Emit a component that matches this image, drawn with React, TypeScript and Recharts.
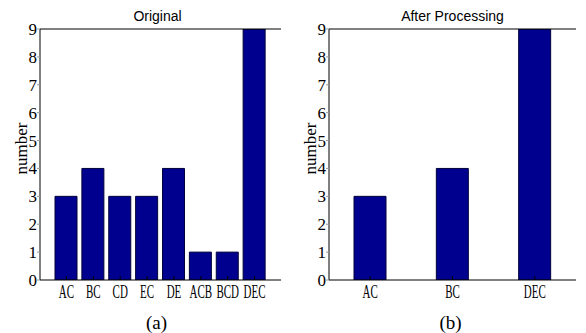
import React from 'react';
import { BarChart, Bar, XAxis, YAxis, Label } from 'recharts';

const leftCategories = ['AC', 'BC', 'CD', 'EC', 'DE', 'ACB', 'BCD', 'DEC'];
const leftValues = [3, 4, 3, 3, 4, 1, 1, 9];
const rightCategories = ['AC', 'BC', 'DEC'];
const rightValues = [3, 4, 9];
const yTicks = [0, 1, 2, 3, 4, 5, 6, 7, 8, 9];
const leftTitle = 'Original';
const rightTitle = 'After Processing';
const leftCaption = '(a)';
const rightCaption = '(b)';
const yLabel = 'number';

const SERIF = '"Liberation Serif", "Times New Roman", serif';
const SANS = '"Liberation Sans", Arial, sans-serif';
const BAR_FILL = '#00008f';

type PanelProps = {
  categories: string[];
  values: number[];
  title: string;
  caption: string;
  width: number;
  yAxisWidth: number;
  rightMargin: number;
  padding: number;
  barSize: number;
  titleDx: number;
  captionDx: number;
};

const XTick = (props: any) => {
  const { x, y, payload } = props;
  return (
    <text
      transform={`translate(${x},${y + 11.5}) scale(0.61,1)`}
      textAnchor="middle"
      fontFamily={SERIF}
      fontSize={18}
      fill="#000"
    >
      {payload.value}
    </text>
  );
};

function Panel(p: PanelProps) {
  const data = p.categories.map((c, i) => ({ name: c, value: p.values[i] }));
  return (
    <BarChart
      width={p.width}
      height={333}
      data={data}
      margin={{ top: 0, right: p.rightMargin, bottom: 0, left: 0 }}
      barCategoryGap={0}
    >
      <XAxis
        dataKey="name"
        xAxisId="top"
        orientation="top"
        height={29}
        padding={{ left: p.padding, right: p.padding }}
        tickSize={-4}
        tick={false}
        axisLine={{ stroke: '#000' }}
        tickLine={{ stroke: '#000' }}
      >
        <Label
          content={(lp: any) => {
            const vb = lp.viewBox || { x: 0, y: 0, width: 0 };
            return (
              <text
                x={vb.x + vb.width / 2 + p.titleDx}
                y={vb.y + 21}
                textAnchor="middle"
                fontFamily={SANS}
                fontSize={14}
                fill="#000"
              >
                {p.title}
              </text>
            );
          }}
        />
      </XAxis>
      <XAxis
        dataKey="name"
        height={53}
        padding={{ left: p.padding, right: p.padding }}
        tickSize={-4}
        tickMargin={10}
        interval={0}
        axisLine={{ stroke: '#000' }}
        tickLine={{ stroke: '#000' }}
        tick={<XTick />}
      >
        <Label
          content={(lp: any) => {
            const vb = lp.viewBox || { x: 0, y: 0, width: 0 };
            return (
              <text
                x={vb.x + vb.width / 2 + p.captionDx}
                y={vb.y + 49}
                textAnchor="middle"
                fontFamily={SERIF}
                fontSize={19}
                fill="#000"
              >
                {p.caption}
              </text>
            );
          }}
        />
      </XAxis>
      <YAxis
        width={p.yAxisWidth}
        domain={[0, 9]}
        ticks={yTicks}
        interval={0}
        allowDataOverflow
        tickSize={3}
        tickMargin={0}
        axisLine={{ stroke: '#000' }}
        tickLine={{ stroke: '#999' }}
        tick={{ fill: '#000', fontFamily: SERIF, fontSize: 17 }}
      >
        <Label
          content={(lp: any) => {
            const vb = lp.viewBox || { x: 0, y: 0, width: 0, height: 0 };
            const cx = vb.x + vb.width - 13.5;
            const cy = vb.y + vb.height / 2 - 6;
            return (
              <text
                x={cx}
                y={cy}
                transform={`rotate(-90 ${cx} ${cy})`}
                textAnchor="middle"
                fontFamily={SERIF}
                fontSize={17}
                fill="#000"
              >
                {yLabel}
              </text>
            );
          }}
        />
      </YAxis>
      <YAxis
        yAxisId="right"
        orientation="right"
        width={0}
        domain={[0, 9]}
        ticks={yTicks}
        interval={0}
        allowDataOverflow
        tickSize={-4}
        tick={false}
        axisLine={{ stroke: '#000' }}
        tickLine={{ stroke: '#000' }}
      />
      <Bar
        dataKey="value"
        fill={BAR_FILL}
        stroke="#00003a"
        strokeWidth={1}
        barSize={p.barSize}
        isAnimationActive={false}
      />
    </BarChart>
  );
}

export default function App() {
  return (
    <div style={{ position: 'absolute', left: 0, top: 0, width: 586, height: 333, background: '#fff' }}>
      <div style={{ position: 'absolute', left: 0, top: 0 }}>
        <Panel
          categories={leftCategories}
          values={leftValues}
          title={leftTitle}
          caption={leftCaption}
          width={290}
          yAxisWidth={40}
          rightMargin={9}
          padding={13}
          barSize={22}
          titleDx={-3}
          captionDx={-4}
        />
      </div>
      <div style={{ position: 'absolute', left: 290, top: 0 }}>
        <Panel
          categories={rightCategories}
          values={rightValues}
          title={rightTitle}
          caption={rightCaption}
          width={296}
          yAxisWidth={39}
          rightMargin={10}
          padding={0}
          barSize={32}
          titleDx={0}
          captionDx={-2}
        />
      </div>
    </div>
  );
}
